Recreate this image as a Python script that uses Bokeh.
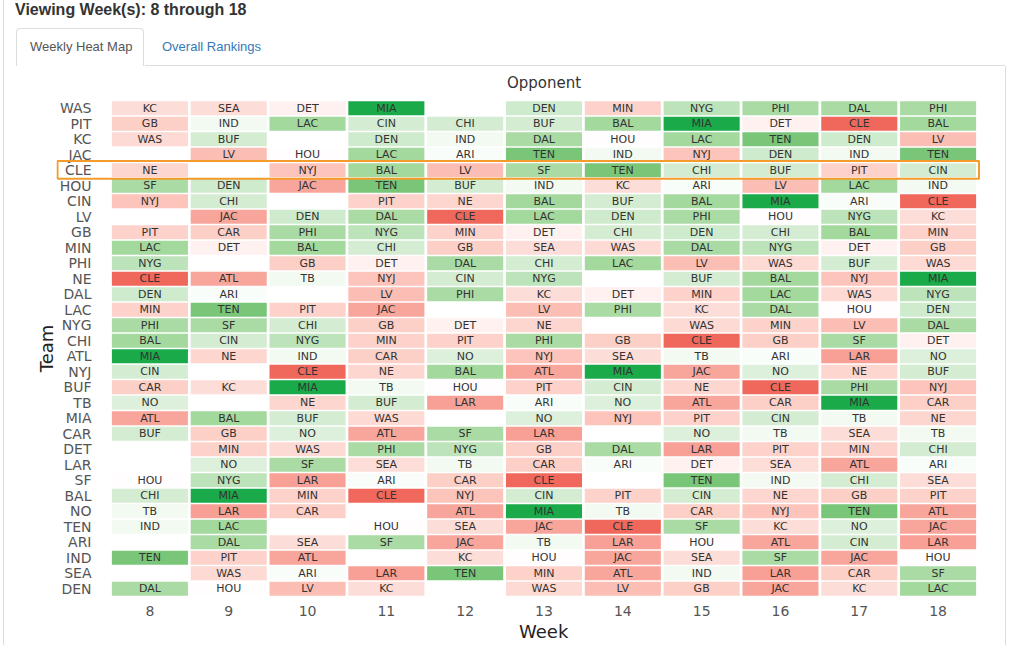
from bokeh.plotting import figure
from bokeh.models import (ColumnDataSource, LinearColorMapper, BoxAnnotation, Div, FixedTicker,
                          Range1d, Title)
from bokeh.layouts import column
from bokeh.embed import file_html
from bokeh.resources import INLINE
from bokeh.core.properties import value
from bokeh.transform import transform

weeks = [8, 9, 10, 11, 12, 13, 14, 15, 16, 17, 18]

teams = ["WAS", "PIT", "KC", "JAC", "CLE", "HOU", "CIN", "LV", "GB", "MIN", "PHI", "NE",
         "DAL", "LAC", "NYG", "CHI", "ATL", "NYJ", "BUF", "TB", "MIA", "CAR", "DET", "LAR",
         "SF", "BAL", "NO", "TEN", "ARI", "IND", "SEA", "DEN"]

# opponent per team (row) per week ("" = bye)
opponents = [
    ["KC", "SEA", "DET", "MIA", "", "DEN", "MIN", "NYG", "PHI", "DAL", "PHI"],
    ["GB", "IND", "LAC", "CIN", "CHI", "BUF", "BAL", "MIA", "DET", "CLE", "BAL"],
    ["WAS", "BUF", "", "DEN", "IND", "DAL", "HOU", "LAC", "TEN", "DEN", "LV"],
    ["", "LV", "HOU", "LAC", "ARI", "TEN", "IND", "NYJ", "DEN", "IND", "TEN"],
    ["NE", "", "NYJ", "BAL", "LV", "SF", "TEN", "CHI", "BUF", "PIT", "CIN"],
    ["SF", "DEN", "JAC", "TEN", "BUF", "IND", "KC", "ARI", "LV", "LAC", "IND"],
    ["NYJ", "CHI", "", "PIT", "NE", "BAL", "BUF", "BAL", "MIA", "ARI", "CLE"],
    ["", "JAC", "DEN", "DAL", "CLE", "LAC", "DEN", "PHI", "HOU", "NYG", "KC"],
    ["PIT", "CAR", "PHI", "NYG", "MIN", "DET", "CHI", "DEN", "CHI", "BAL", "MIN"],
    ["LAC", "DET", "BAL", "CHI", "GB", "SEA", "WAS", "DAL", "NYG", "DET", "GB"],
    ["NYG", "", "GB", "DET", "DAL", "CHI", "LAC", "LV", "WAS", "BUF", "WAS"],
    ["CLE", "ATL", "TB", "NYJ", "CIN", "NYG", "", "BUF", "BAL", "NYJ", "MIA"],
    ["DEN", "ARI", "", "LV", "PHI", "KC", "DET", "MIN", "LAC", "WAS", "NYG"],
    ["MIN", "TEN", "PIT", "JAC", "", "LV", "PHI", "KC", "DAL", "HOU", "DEN"],
    ["PHI", "SF", "CHI", "GB", "DET", "NE", "", "WAS", "MIN", "LV", "DAL"],
    ["BAL", "CIN", "NYG", "MIN", "PIT", "PHI", "GB", "CLE", "GB", "SF", "DET"],
    ["MIA", "NE", "IND", "CAR", "NO", "NYJ", "SEA", "TB", "ARI", "LAR", "NO"],
    ["CIN", "", "CLE", "NE", "BAL", "ATL", "MIA", "JAC", "NO", "NE", "BUF"],
    ["CAR", "KC", "MIA", "TB", "HOU", "PIT", "CIN", "NE", "CLE", "PHI", "NYJ"],
    ["NO", "", "NE", "BUF", "LAR", "ARI", "NO", "ATL", "CAR", "MIA", "CAR"],
    ["ATL", "BAL", "BUF", "WAS", "", "NO", "NYJ", "PIT", "CIN", "TB", "NE"],
    ["BUF", "GB", "NO", "ATL", "SF", "LAR", "", "NO", "TB", "SEA", "TB"],
    ["", "MIN", "WAS", "PHI", "NYG", "GB", "DAL", "LAR", "PIT", "MIN", "CHI"],
    ["", "NO", "SF", "SEA", "TB", "CAR", "ARI", "DET", "SEA", "ATL", "ARI"],
    ["HOU", "NYG", "LAR", "ARI", "CAR", "CLE", "", "TEN", "IND", "CHI", "SEA"],
    ["CHI", "MIA", "MIN", "CLE", "NYJ", "CIN", "PIT", "CIN", "NE", "GB", "PIT"],
    ["TB", "LAR", "CAR", "", "ATL", "MIA", "TB", "CAR", "NYJ", "TEN", "ATL"],
    ["IND", "LAC", "", "HOU", "SEA", "JAC", "CLE", "SF", "KC", "NO", "JAC"],
    ["", "DAL", "SEA", "SF", "JAC", "TB", "LAR", "HOU", "ATL", "CIN", "LAR"],
    ["TEN", "PIT", "ATL", "", "KC", "HOU", "JAC", "SEA", "SF", "JAC", "HOU"],
    ["", "WAS", "ARI", "LAR", "TEN", "MIN", "ATL", "IND", "LAR", "CAR", "SF"],
    ["DAL", "HOU", "LV", "KC", "", "WAS", "LV", "GB", "JAC", "KC", "LAC"],
]

# opponent strength used for the cell colour (green = favourable, red = tough)
rating_teams = ["MIA", "TEN", "BAL", "LAC", "DAL", "PHI", "SF", "NYG", "DEN", "CIN", "BUF",
                "CHI", "NO", "IND", "TB", "ARI", "HOU", "DET", "KC", "SEA", "WAS", "NE",
                "MIN", "PIT", "GB", "CAR", "NYJ", "LV", "ATL", "JAC", "LAR", "CLE"]
rating_values = [1.0, 0.65, 0.45, 0.45, 0.42, 0.42, 0.42, 0.32, 0.22, 0.2, 0.2,
                 0.2, 0.16, 0.06, 0.06, 0.03, -0.01, -0.08, -0.2, -0.2, -0.22, -0.25,
                 -0.28, -0.28, -0.3, -0.3, -0.38, -0.42, -0.58, -0.58, -0.62, -1.0]

highlight_team = "CLE"

rating = dict(zip(rating_teams, rating_values))
n = len(teams)

xs, ys, labs, vals = [], [], [], []
for r, team in enumerate(teams):
    for j, wk in enumerate(weeks):
        opp = opponents[r][j]
        if opp:
            xs.append(wk)
            ys.append(n - 1 - r)
            labs.append(opp)
            vals.append(rating[opp])
src = ColumnDataSource(dict(x=xs, y=ys, opp=labs, v=vals))

# diverging palette red -> white -> green
stops = [(-1.0, (240, 104, 92)), (-0.45, (251, 186, 176)), (-0.2, (253, 221, 215)),
         (0.0, (255, 255, 255)), (0.22, (208, 235, 206)), (0.45, (164, 217, 158)),
         (0.65, (122, 198, 122)), (1.0, (26, 170, 73))]
pal = []
N = 256
for i in range(N):
    t = -1 + 2 * i / (N - 1)
    for k in range(len(stops) - 1):
        a, ca = stops[k]
        b, cb = stops[k + 1]
        if a <= t <= b:
            f = (t - a) / (b - a)
            c = tuple(int(round(ca[m] + (cb[m] - ca[m]) * f)) for m in range(3))
            break
    pal.append("#%02x%02x%02x" % c)
mapper = LinearColorMapper(palette=pal, low=-1, high=1)

# layout in pixels: one week column is `u` px wide; the frame also holds the team labels
u = 867 / 11
lab_px, right_px = 54, 3
x_lo = weeks[0] - 0.5 - lab_px / u
x_hi = weeks[-1] + 0.5 + right_px / u
grid_mid_px = lab_px + 867 / 2          # centre of the week columns, from frame left

p = figure(width=1005, height=582, output_backend="svg", toolbar_location=None,
           x_range=Range1d(x_lo, x_hi), y_range=Range1d(-0.5, n - 0.5),
           min_border_left=56, min_border_right=25, min_border_top=37, min_border_bottom=49,
           title="Opponent")
p.title.align = "left"
p.title.offset = grid_mid_px - 37
p.title.text_font = "DejaVu Sans"
p.title.text_font_size = "15px"
p.title.text_font_style = "normal"
p.title.text_color = "#333333"
p.title.standoff = 17

p.rect(x="x", y="y", width=0.965, height=0.9, source=src,
       fill_color=transform("v", mapper), line_color=None)
p.text(x="x", y="y", text="opp", source=src, text_align="center", text_baseline="middle",
       text_font=value("DejaVu Sans"), text_font_size="11px", text_color="#333333")

# team names (row labels)
team_src = ColumnDataSource(dict(y=[n - 1 - r for r in range(n)], team=teams))
p.text(x=weeks[0] - 0.5 - 19 / u, y="y", text="team", source=team_src,
       text_align="right", text_baseline="middle",
       text_font=value("DejaVu Sans"), text_font_size="14px", text_color="#555555")

hi_row = n - 1 - teams.index(highlight_team)
box = BoxAnnotation(left=weeks[0] - 0.5 - 53 / u, right=weeks[-1] + 0.5 + 1.5 / u,
                    top=hi_row + 0.6, bottom=hi_row - 0.55,
                    fill_alpha=0, line_alpha=1.0, line_color="#f39c2b", line_width=2)
p.add_layout(box)

p.xaxis.ticker = FixedTicker(ticks=weeks)
p.yaxis.ticker = FixedTicker(ticks=[])
for ax in (p.xaxis[0], p.yaxis[0]):
    ax.axis_line_color = None
    ax.major_tick_line_color = None
    ax.minor_tick_line_color = None
    ax.major_label_text_font = "DejaVu Sans"
    ax.major_label_text_font_size = "14px"
    ax.major_label_text_color = "#555555"
    ax.axis_label_text_font = "DejaVu Sans"
    ax.axis_label_text_font_size = "18px"
    ax.axis_label_text_font_style = "normal"
    ax.axis_label_text_color = "#222222"
p.yaxis.axis_label = "Team"
p.xaxis.major_label_standoff = 3
p.yaxis.major_label_standoff = 0
p.yaxis.axis_label_standoff = 0
p.xgrid.grid_line_color = None
p.ygrid.grid_line_color = None
p.outline_line_color = None
p.border_fill_alpha = 0

week_title = Title(text="Week", align="left", offset=grid_mid_px - 25, standoff=0,
                   text_font="DejaVu Sans", text_font_size="18px", text_font_style="normal",
                   text_color="#222222")
p.add_layout(week_title, "below")

header = Div(width=1023, height=63, margin=0, text="""
<div style="position:relative;width:1023px;height:63px;font-family:'Liberation Sans',Arial,sans-serif;">
 <div style="position:absolute;left:3px;top:0px;width:0;height:645px;border-left:1px solid #dddddd;"></div>
 <div style="position:absolute;left:1005px;top:66px;width:0;height:580px;border-left:1px solid #dddddd;"></div>
 <div style="position:absolute;left:15px;top:1px;font-size:16px;line-height:18px;font-weight:bold;color:#333333;white-space:nowrap;">Viewing Week(s): 8 through 18</div>
 <div style="position:absolute;left:16px;top:28px;width:128px;height:38px;border:1px solid #dddddd;border-bottom:none;border-radius:4px 4px 0 0;background:#ffffff;"></div>
 <div style="position:absolute;left:30px;top:39px;font-size:13px;line-height:16px;color:#555555;white-space:nowrap;">Weekly Heat Map</div>
 <div style="position:absolute;left:162px;top:39px;font-size:13px;line-height:16px;color:#337ab7;white-space:nowrap;">Overall Rankings</div>
 <div style="position:absolute;left:145px;top:65px;width:860px;height:0;border-top:1px solid #dddddd;"></div>
</div>
""")

layout = column(header, p)
open("out.html", "w").write(file_html(layout, INLINE))
